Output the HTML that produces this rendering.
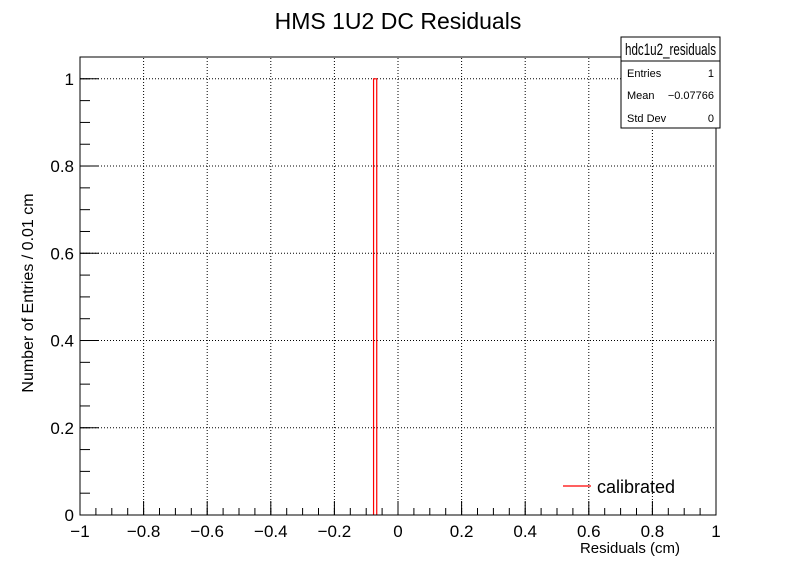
<!DOCTYPE html>
<html><head><meta charset="utf-8"><style>
body{margin:0;background:#fff}
svg text{font-family:"Liberation Sans",Arial,sans-serif}
</style></head><body>
<svg id="c" width="796" height="572" xmlns="http://www.w3.org/2000/svg">
<rect width="796" height="572" fill="#fff"/>
<text x="398" y="29" font-size="23" text-anchor="middle">HMS 1U2 DC Residuals</text>
<g id="grid"></g>
<g id="bars"></g>
<rect x="80" y="57" width="636" height="458" fill="none" stroke="#000" stroke-width="1"/>
<g id="axes"></g>
<text x="680" y="553" font-size="15" text-anchor="end">Residuals (cm)</text>
<text transform="translate(33,293) rotate(-90)" font-size="16" text-anchor="middle">Number of Entries / 0.01 cm</text>
<g>
<rect x="621" y="37" width="99" height="91" fill="#fff" stroke="#000"/>
<line x1="621" y1="61" x2="720" y2="61" stroke="#000"/>
<text x="625" y="55" font-size="17" textLength="91" lengthAdjust="spacingAndGlyphs">hdc1u2_residuals</text>
<text x="627" y="77" font-size="11">Entries</text><text x="714" y="77" font-size="11" text-anchor="end">1</text>
<text x="627" y="99" font-size="11">Mean</text><text x="714" y="99" font-size="11" text-anchor="end">−0.07766</text>
<text x="627" y="122" font-size="11">Std Dev</text><text x="714" y="122" font-size="11" text-anchor="end">0</text>
</g>
<g>
<line x1="563" y1="486" x2="591" y2="486" stroke="#f00" stroke-width="1.2"/>
<text x="597" y="493" font-size="18">calibrated</text>
</g>
</svg>
<script>
const binLow=[-0.08];
const binWidth=[0.01];
const binCounts=[1];
const xTicks=[-1,-0.8,-0.6,-0.4,-0.2,0,0.2,0.4,0.6,0.8,1];
const yTicks=[0,0.2,0.4,0.6,0.8,1];
const X0=80,X1=716,Y0=515,Y1=57,xmin=-1,xmax=1,ymin=0,ymax=1.05;
const sx=v=>X0+(v-xmin)/(xmax-xmin)*(X1-X0);
const sy=v=>Y0-(v-ymin)/(ymax-ymin)*(Y0-Y1);
const NS="http://www.w3.org/2000/svg";
function mk(t,a,p){const e=document.createElementNS(NS,t);for(const k in a)e.setAttribute(k,a[k]);p.appendChild(e);return e;}
const grid=document.getElementById('grid'),axes=document.getElementById('axes'),bars=document.getElementById('bars');
const fmt=v=>(v<0?'−':'')+String(Math.abs(Math.round(v*10)/10));
xTicks.forEach(v=>{const x=sx(v);
 if(v>xmin&&v<xmax){const g=mk('line',{x1:x,y1:Y0,x2:x,y2:Y1,stroke:'#000','stroke-dasharray':'1,2'},grid);
 
 }
 mk('line',{x1:x,y1:Y0,x2:x,y2:Y0-14,stroke:'#000'},axes);
 const t=mk('text',{x:x,y:Y0+22,'font-size':17,'text-anchor':'middle'},axes);t.textContent=fmt(v);
 
 });
for(let i=0;i<=40;i++){const x=sx(xmin+i*0.05);mk('line',{x1:x,y1:Y0,x2:x,y2:Y0-7,stroke:'#000'},axes);}
yTicks.forEach(v=>{const y=sy(v);
 if(v>ymin){const g=mk('line',{x1:X0,y1:y,x2:X1,y2:y,stroke:'#000','stroke-dasharray':'1,2'},grid);
 
 }
 mk('line',{x1:X0,y1:y,x2:X0+19,y2:y,stroke:'#000'},axes);
 const t=mk('text',{x:X0-6,y:y+6,'font-size':17,'text-anchor':'end'},axes);t.textContent=String(v);
 
 });
for(let v=0;v<=1.05001;v+=0.05){const y=sy(v);mk('line',{x1:X0,y1:y,x2:X0+10,y2:y,stroke:'#000'},axes);}
binLow.forEach((lo,i)=>{const xa=sx(lo)+1,xb=sx(lo+binWidth[i])+1,y=sy(binCounts[i]);
 const p=mk('path',{d:`M${xa},${Y0}V${y}H${xb}V${Y0}`,fill:'none',stroke:'#f00','stroke-width':1.2},bars);
 
 });
</script>
</body></html>
